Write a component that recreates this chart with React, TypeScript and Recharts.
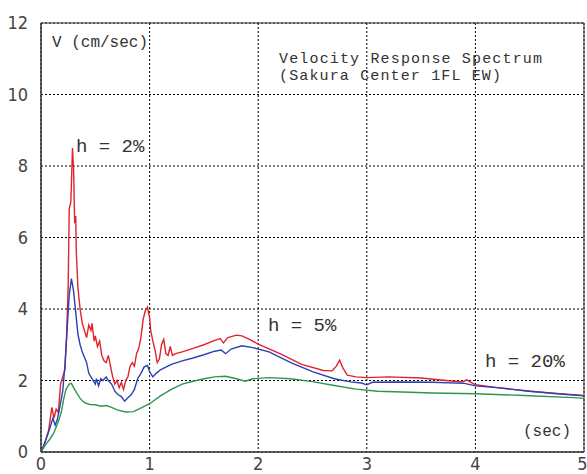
import { LineChart, Line, XAxis, YAxis, CartesianGrid, ReferenceArea } from "recharts"

// periods (sec) and spectral velocity (cm/sec) for each damping ratio
const periods2 = [
  0, 0.03, 0.07, 0.1, 0.12, 0.14, 0.16, 0.18, 0.2, 0.22, 0.235, 0.25, 0.26, 0.275, 0.29, 0.3, 0.31, 0.32, 0.325,
  0.34, 0.36, 0.38, 0.4, 0.42, 0.44, 0.46, 0.47, 0.49, 0.5, 0.52, 0.54, 0.56, 0.58, 0.6, 0.62, 0.64, 0.66, 0.68,
  0.7, 0.72, 0.74, 0.76, 0.78, 0.8, 0.82, 0.84, 0.86, 0.88, 0.9, 0.92, 0.94, 0.96, 0.98, 1.0, 1.01, 1.03, 1.05,
  1.07, 1.09, 1.11, 1.13, 1.15, 1.17, 1.19, 1.21, 1.24, 1.3, 1.4, 1.5, 1.6, 1.65, 1.68, 1.72, 1.8, 1.85, 1.92, 2.0,
  2.2, 2.4, 2.6, 2.68, 2.72, 2.75, 2.78, 2.82, 2.9, 3.0, 3.2, 3.5, 3.8, 3.88, 3.92, 3.96, 4.0, 4.2, 4.5,
  4.75, 5.0,
]
const velocity2 = [
  0, 0.2, 0.6, 1.25, 0.95, 1.2, 1.1, 1.9, 2.1, 2.3, 3.2, 4.6, 6.8, 7.0, 8.5, 7.9, 6.4, 6.6, 5.6,
  4.6, 4.0, 3.6, 3.4, 3.2, 3.55, 3.4, 3.6, 3.1, 3.25, 2.95, 3.1, 2.7, 2.55, 2.5, 2.7, 2.4, 2.1, 1.9,
  2.0, 1.8, 1.95, 1.75, 2.0, 2.1, 2.4, 2.5, 2.4, 2.75, 2.9, 3.2, 3.7, 3.95, 4.05, 3.75, 3.4, 3.1, 2.85,
  2.5, 2.6, 3.0, 3.15, 2.75, 2.7, 2.95, 2.7, 2.75, 2.8, 2.9, 3.0, 3.12, 3.17, 3.05, 3.2, 3.27, 3.25, 3.15, 3.02,
  2.75, 2.45, 2.28, 2.27, 2.4, 2.57, 2.35, 2.15, 2.1, 2.08, 2.1, 2.07, 1.98, 1.96, 2.02, 1.95, 1.88, 1.8, 1.7,
  1.64, 1.58,
]

const periods5 = [
  0, 0.04, 0.08, 0.11, 0.13, 0.15, 0.17, 0.2, 0.22, 0.24, 0.26, 0.28, 0.3, 0.32, 0.34, 0.36, 0.38, 0.4, 0.42,
  0.44, 0.46, 0.48, 0.5, 0.51, 0.53, 0.55, 0.57, 0.6, 0.62, 0.65, 0.68, 0.71, 0.74, 0.77, 0.8, 0.83, 0.86, 0.89,
  0.92, 0.95, 0.98, 1.0, 1.03, 1.06, 1.1, 1.2, 1.3, 1.4, 1.5, 1.6, 1.66, 1.7, 1.75, 1.85, 1.95, 2.1, 2.3, 2.5,
  2.7, 2.85, 2.95, 3.0, 3.05, 3.3, 3.6, 3.9, 4.0, 4.2, 4.5, 4.75, 5.0,
]
const velocity5 = [
  0, 0.3, 0.65, 0.95, 0.75, 0.9, 1.2, 1.7, 2.4, 3.4, 4.4, 4.85, 4.5, 3.9, 3.3, 3.0, 2.8, 2.65, 2.5,
  2.2, 2.1, 2.0, 1.9, 2.05, 1.85, 2.05, 2.0, 2.1, 2.0, 1.9, 1.7, 1.6, 1.55, 1.42, 1.52, 1.6, 1.75, 2.05,
  2.2, 2.38, 2.42, 2.25, 2.1, 2.2, 2.3, 2.45, 2.55, 2.63, 2.72, 2.82, 2.85, 2.75, 2.88, 2.97, 2.92, 2.8, 2.5, 2.25,
  2.05, 1.96, 1.93, 1.88, 1.95, 1.96, 1.95, 1.92, 1.85, 1.8, 1.7, 1.63, 1.57,
]

const periods20 = [
  0, 0.04, 0.08, 0.12, 0.16, 0.19, 0.21, 0.23, 0.26, 0.28, 0.3, 0.33, 0.36, 0.4, 0.45, 0.5, 0.55, 0.6, 0.65,
  0.7, 0.78, 0.85, 0.9, 1.0, 1.1, 1.2, 1.3, 1.4, 1.5, 1.6, 1.7, 1.8, 1.88, 1.95, 2.1, 2.3, 2.5, 2.7, 2.9, 3.1,
  3.4, 3.6, 4.0, 4.45, 4.9, 5.0,
]
const velocity20 = [
  0, 0.2, 0.35, 0.55, 0.85, 1.15, 1.5, 1.75, 1.9, 1.92, 1.8, 1.65, 1.5, 1.38, 1.33, 1.32, 1.28, 1.3, 1.25,
  1.18, 1.12, 1.13, 1.2, 1.35, 1.57, 1.75, 1.9, 1.98, 2.05, 2.1, 2.12, 2.05, 1.98, 2.05, 2.08, 2.05, 1.97, 1.86, 1.76, 1.7,
  1.67, 1.65, 1.63, 1.58, 1.52, 1.5,
]

const xTicks = [0, 1, 2, 3, 4, 5]
const yTicks = [0, 2, 4, 6, 8, 10, 12]

const toRows = (t: number[], v: number[]) => t.map((p, i) => ({ t: p, v: v[i] }))

const series = [
  { key: "h2", rows: toRows(periods2, velocity2), color: "#e2232c" },
  { key: "h5", rows: toRows(periods5, velocity5), color: "#2b40b5" },
  { key: "h20", rows: toRows(periods20, velocity20), color: "#2f9650" },
]

const tickStyle = { fill: "#444", fontSize: 18, fontFamily: "'Liberation Sans Narrow', 'DejaVu Sans Condensed', 'Liberation Sans', sans-serif" }
const mono = "'Liberation Mono', 'DejaVu Sans Mono', monospace"

export default function App() {
  return (
    <div style={{ position: "absolute", left: 0, top: 0, width: 587, height: 474, background: "#fff" }}>
      <LineChart width={587} height={474} margin={{ top: 23, right: 3, left: 0, bottom: 0 }}>
        <CartesianGrid stroke="#000" strokeDasharray="2 2" />
        <XAxis
          type="number"
          dataKey="t"
          domain={[0, 5]}
          ticks={xTicks}
          height={22}
          tickLine={false}
          tickSize={0}
          tickMargin={5}
          axisLine={{ stroke: "#333" }}
          tick={tickStyle}
          allowDataOverflow
        />
        <YAxis
          type="number"
          domain={[0, 12]}
          ticks={yTicks}
          width={41}
          tickLine={false}
          tickSize={0}
          tickMargin={13}
          axisLine={{ stroke: "#333" }}
          tick={tickStyle}
          allowDataOverflow
        />
        <ReferenceArea x1={0} x2={5} y1={0} y2={12} fill="none" stroke="#333" strokeWidth={1} />
        {series.map((s) => (
          <Line
            key={s.key}
            data={s.rows}
            dataKey="v"
            type="linear"
            stroke={s.color}
            strokeWidth={1.4}
            dot={false}
            isAnimationActive={false}
          />
        ))}
      </LineChart>
      <svg width={587} height={474} style={{ position: "absolute", left: 0, top: 0, pointerEvents: "none" }}>
        <g fill="#333" fontFamily={mono}>
          <text x={52} y={47} fontSize={16}>V (cm/sec)</text>
          <text x={279} y={63} fontSize={15} textLength={263}>Velocity Response Spectrum</text>
          <text x={279} y={80} fontSize={15} textLength={222}>(Sakura Center 1FL EW)</text>
          <text x={76} y={152} fontSize={19}>h = 2%</text>
          <text x={268} y={331} fontSize={19}>h = 5%</text>
          <text x={485} y={367} fontSize={19}>h = 20%</text>
          <text x={523} y={436} fontSize={16}>(sec)</text>
        </g>
      </svg>
    </div>
  )
}
